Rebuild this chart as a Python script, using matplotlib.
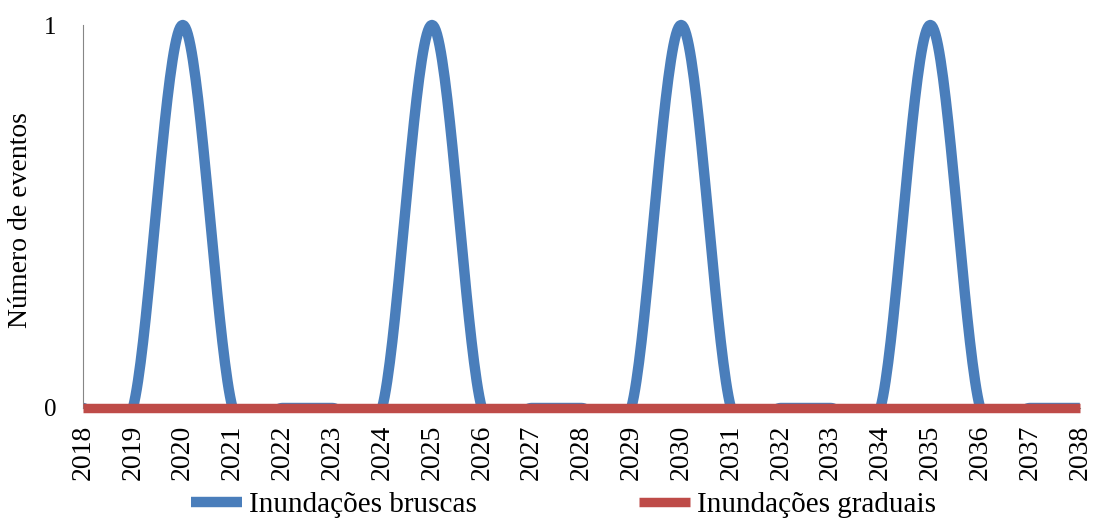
import numpy as np
import matplotlib.pyplot as plt
from matplotlib.patches import Rectangle

plt.rcParams['font.family'] = ['Liberation Serif', 'DejaVu Serif']

# Number of events per year
years = list(range(2018, 2039))
bruscas = [0, 0, 1, 0, 0, 0, 0, 1, 0, 0, 0, 0, 1, 0, 0, 0, 0, 1, 0, 0, 0]
graduais = [0, 0, 0, 0, 0, 0, 0, 0, 0, 0, 0, 0, 0, 0, 0, 0, 0, 0, 0, 0, 0]


def smooth_line(x, y, n=40):
    # Catmull-Rom spline through the points (like a spreadsheet "smoothed line")
    x = np.asarray(x, float)
    y = np.asarray(y, float)
    px = np.concatenate([[x[0]], x, [x[-1]]])
    py = np.concatenate([[y[0]], y, [y[-1]]])
    xs, ys = [], []
    t = np.linspace(0, 1, n)
    h00 = 2*t**3 - 3*t**2 + 1
    h10 = t**3 - 2*t**2 + t
    h01 = -2*t**3 + 3*t**2
    h11 = t**3 - t**2
    for i in range(1, len(px) - 2):
        mx0 = (px[i+1] - px[i-1]) / 2
        mx1 = (px[i+2] - px[i]) / 2
        my0 = (py[i+1] - py[i-1]) / 2
        my1 = (py[i+2] - py[i]) / 2
        xs.append(h00*px[i] + h10*mx0 + h01*px[i+1] + h11*mx1)
        ys.append(h00*py[i] + h10*my0 + h01*py[i+1] + h11*my1)
    return np.concatenate(xs), np.concatenate(ys)


fig = plt.figure(figsize=(11.03, 5.21), dpi=100)
ax = fig.add_axes([0.0753, 0.2169, 0.9037, 0.7351])

blue = '#4a7ebb'
red = '#be4b48'

sx, sy = smooth_line(years, bruscas)
l1, = ax.plot(sx, sy, color=blue, lw=7.5, solid_joinstyle='round',
              solid_capstyle='butt', label='Inundações bruscas', zorder=2)
# keep the overshoot of the spline inside the plot area
clip = Rectangle((2017, 0), 30, 2, transform=ax.transData)
l1.set_clip_path(clip)
l2, = ax.plot(years, graduais, color=red, lw=6.8, solid_capstyle='butt',
              label='Inundações graduais', zorder=3, clip_on=False)

ax.set_xlim(2018, 2038)
ax.set_ylim(0, 1)
ax.set_xticks(years)
ax.set_xticklabels([str(y) for y in years], rotation=90, fontsize=20)
ax.set_yticks([0, 1])
ax.set_yticklabels(['0', '1'], fontsize=18)
ax.tick_params(axis='x', length=0, pad=12)
ax.tick_params(axis='y', length=0, pad=19)

for s in ['top', 'right']:
    ax.spines[s].set_visible(False)
ax.spines['left'].set_color('#868686')
ax.spines['bottom'].set_color('#868686')

ax.set_ylabel('Número de eventos', fontsize=20)
ax.yaxis.set_label_coords(-0.05, 0.49)

fig.legend(handles=[l1, l2], loc='center', bbox_to_anchor=(0.511, 0.031),
           ncol=2, frameon=False, fontsize=21, handlelength=1.75,
           handletextpad=0.24, columnspacing=5.55, borderpad=0)

fig.savefig('out.png', dpi=100)
